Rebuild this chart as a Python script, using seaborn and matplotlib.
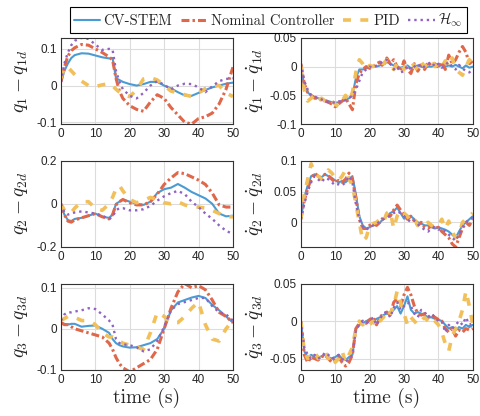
import numpy as np
import pandas as pd
import matplotlib
matplotlib.use("Agg")
import matplotlib.pyplot as plt
from matplotlib.ticker import FuncFormatter
import seaborn as sns

# time grids (s)
t_pos = [0, 1, 2, 3, 4, 6, 8, 10, 12, 14, 15, 16, 17, 18, 20, 22, 24, 26, 28, 30,
         32, 34, 36, 38, 40, 42, 44, 46, 48, 50]
t_vel = list(range(0, 51))

# q1 - q1d
q1_cv = [0.01, 0.04, 0.06, 0.075, 0.083, 0.088, 0.087, 0.082, 0.077, 0.074, 0.075, 0.02, 0.015, 0.01, 0.004,
         0.0, 0.004, 0.01, 0.01, 0.0, -0.008, -0.018, -0.027, -0.028, -0.02, -0.012, -0.005, 0.0, 0.005, 0.008]
q1_nom = [0.01, 0.05, 0.08, 0.095, 0.103, 0.112, 0.11, 0.1, 0.09, 0.078, 0.07, 0.02, -0.015, -0.035, -0.055,
          -0.065, -0.07, -0.045, -0.025, -0.035, -0.06, -0.08, -0.1, -0.105, -0.09, -0.085, -0.075, -0.05, -0.01, 0.05]
q1_pid = [0.02, 0.05, 0.05, 0.04, 0.03, 0.012, 0.0, -0.003, 0.002, 0.005, 0.0, -0.01, -0.018, -0.025, -0.03,
          -0.012, 0.018, 0.022, 0.015, 0.0, -0.015, -0.02, -0.025, -0.03, -0.02, -0.008, 0.0, 0.0, -0.02, -0.03]
q1_hinf = [0.01, 0.06, 0.09, 0.11, 0.122, 0.13, 0.127, 0.112, 0.097, 0.1, 0.098, 0.04, 0.01, -0.01, -0.028,
           -0.035, -0.02, 0.0, 0.012, 0.002, -0.01, 0.0, 0.005, 0.004, -0.005, -0.018, -0.002, 0.012, 0.018, 0.02]

# q2 - q2d
q2_cv = [-0.008, -0.05, -0.075, -0.08, -0.07, -0.065, -0.055, -0.045, -0.06, -0.065, -0.05, 0.0, 0.01, 0.02, 0.01,
         0.0, -0.005, 0.01, 0.05, 0.068, 0.075, 0.092, 0.075, 0.055, 0.04, 0.025, 0.0, -0.045, -0.058, -0.055]
q2_nom = [-0.005, -0.05, -0.08, -0.085, -0.075, -0.065, -0.055, -0.045, -0.06, -0.07, -0.05, -0.005, 0.01, 0.02, 0.005,
          -0.005, -0.005, 0.01, 0.045, 0.09, 0.12, 0.145, 0.14, 0.125, 0.11, 0.09, 0.05, -0.005, -0.015, -0.015]
q2_pid = [0.0, -0.03, -0.045, -0.04, -0.02, 0.01, 0.01, -0.02, -0.03, 0.0, 0.03, 0.07, 0.085, 0.06, 0.02,
          0.005, 0.015, 0.03, 0.02, 0.005, 0.0, 0.01, -0.005, -0.015, -0.015, -0.02, -0.03, -0.045, -0.06, -0.06]
q2_hinf = [0.0, -0.04, -0.05, -0.045, -0.04, -0.035, -0.04, -0.045, -0.055, -0.07, -0.06, -0.03, -0.02, -0.02, -0.03,
           -0.03, -0.025, -0.01, 0.015, 0.035, 0.05, 0.06, 0.045, 0.01, -0.015, -0.045, -0.07, -0.1, -0.125, -0.14]

# q3 - q3d
q3_cv = [0.015, 0.012, 0.01, 0.012, 0.012, 0.005, 0.007, 0.008, 0.0, -0.01, -0.025, -0.035, -0.04, -0.043, -0.046,
         -0.045, -0.04, -0.035, -0.025, 0.0, 0.045, 0.064, 0.07, 0.076, 0.08, 0.075, 0.058, 0.045, 0.03, 0.015]
q3_nom = [0.015, 0.01, 0.01, 0.005, 0.0, -0.005, -0.01, -0.015, -0.02, -0.035, -0.05, -0.07, -0.085, -0.095, -0.105,
          -0.095, -0.085, -0.075, -0.05, 0.0, 0.05, 0.09, 0.11, 0.1, 0.105, 0.095, 0.07, 0.04, 0.03, 0.015]
q3_pid = [0.02, 0.025, 0.03, 0.03, 0.028, 0.02, 0.02, 0.01, -0.01, -0.02, -0.02, -0.025, -0.03, -0.035, -0.04,
          -0.045, -0.05, -0.01, 0.04, 0.03, 0.015, 0.015, 0.03, 0.05, 0.065, 0.01, -0.025, -0.03, 0.0, 0.02]
q3_hinf = [0.02, 0.035, 0.04, 0.04, 0.042, 0.045, 0.05, 0.048, 0.035, 0.02, 0.01, -0.025, -0.035, -0.038, -0.04,
           -0.045, -0.055, -0.05, -0.03, 0.005, 0.045, 0.06, 0.065, 0.07, 0.075, 0.075, 0.055, 0.04, 0.035, 0.02]

# q1dot - q1dot_d
dq1_cv = [0.0, -0.035, -0.045, -0.05, -0.053, -0.055, -0.057, -0.058, -0.06, -0.062, -0.063,
          -0.062, -0.06, -0.058, -0.055, -0.05, -0.02, -0.005, -0.005, -0.003, -0.002,
          0.0, 0.0, 0.002, 0.005, 0.008, 0.005, 0.002, 0.0, -0.002, 0.0,
          0.002, -0.003, 0.0, 0.002, 0.0, -0.002, 0.0, 0.0, 0.002, 0.0,
          0.003, 0.0, 0.002, 0.0, 0.003, 0.0, -0.003, 0.002, -0.002, 0.0]
dq1_nom = [0.005, -0.03, -0.045, -0.05, -0.055, -0.055, -0.058, -0.06, -0.062, -0.065, -0.07,
           -0.065, -0.06, -0.055, -0.065, -0.075, -0.03, -0.012, -0.005, 0.0, -0.003,
           0.0, 0.005, 0.008, 0.0, 0.015, 0.005, 0.012, 0.0, -0.008, 0.01,
           -0.005, -0.012, 0.005, -0.008, 0.003, -0.005, 0.008, 0.0, 0.005, -0.002,
           0.008, -0.005, 0.02, 0.005, 0.012, 0.025, 0.035, 0.025, 0.005, 0.01]
dq1_pid = [0.0, -0.04, -0.06, -0.055, -0.05, -0.06, -0.055, -0.06, -0.065, -0.06, -0.065,
           -0.07, -0.06, -0.05, -0.06, -0.045, -0.01, 0.012, 0.005, -0.005, 0.002,
           0.0, 0.005, 0.01, 0.005, 0.012, 0.005, -0.005, 0.005, 0.008, -0.005,
           0.005, 0.01, 0.0, -0.005, 0.008, 0.0, 0.005, 0.012, 0.0, 0.005,
           0.0, 0.01, 0.0, 0.015, -0.005, -0.01, -0.015, 0.0, 0.012, 0.005]
dq1_hinf = [0.005, -0.025, -0.04, -0.05, -0.052, -0.055, -0.057, -0.06, -0.062, -0.063, -0.062,
            -0.06, -0.062, -0.058, -0.055, -0.05, -0.04, -0.025, -0.01, -0.005, 0.0,
            -0.002, 0.002, 0.005, 0.01, 0.012, 0.005, -0.005, 0.0, -0.01, -0.008,
            0.002, -0.005, 0.0, 0.005, -0.002, 0.0, 0.005, 0.008, 0.0, 0.005,
            -0.002, 0.003, 0.008, 0.0, -0.005, 0.003, -0.003, -0.008, -0.01, -0.005]

# q2dot - q2dot_d
dq2_cv = [0.005, 0.04, 0.06, 0.075, 0.078, 0.075, 0.073, 0.078, 0.075, 0.072, 0.068,
          0.065, 0.067, 0.065, 0.07, 0.075, 0.045, 0.01, -0.005, -0.01, -0.008,
          -0.005, -0.003, 0.0, 0.005, 0.01, 0.015, 0.018, 0.024, 0.015, 0.006,
          0.008, 0.01, 0.005, 0.0, -0.002, -0.005, -0.005, -0.008, -0.01, -0.008,
          -0.01, -0.012, -0.015, -0.02, -0.025, -0.015, -0.005, 0.0, 0.005, 0.01]
dq2_nom = [0.005, 0.035, 0.055, 0.07, 0.08, 0.075, 0.072, 0.078, 0.076, 0.07, 0.065,
           0.068, 0.065, 0.07, 0.08, 0.07, 0.04, 0.005, -0.01, -0.01, -0.005,
           -0.002, -0.005, 0.0, 0.008, 0.012, 0.01, 0.02, 0.028, 0.02, 0.012,
           0.005, 0.01, 0.002, -0.005, 0.0, -0.008, -0.01, -0.005, -0.01, -0.008,
           -0.015, -0.02, -0.025, -0.035, -0.04, -0.025, -0.01, 0.0, -0.005, 0.005]
dq2_pid = [0.005, 0.045, 0.07, 0.095, 0.08, 0.075, 0.07, 0.075, 0.085, 0.08, 0.072,
           0.068, 0.075, 0.085, 0.07, 0.06, 0.03, 0.0, -0.03, -0.025, -0.005,
           -0.002, 0.0, 0.005, 0.0, 0.015, 0.018, -0.01, 0.01, 0.02, 0.015,
           0.01, 0.0, 0.005, -0.005, -0.008, -0.005, 0.0, -0.005, -0.008, -0.005,
           0.005, -0.01, 0.002, -0.015, -0.025, -0.02, 0.0, 0.005, 0.01, 0.015]
dq2_hinf = [0.005, 0.03, 0.05, 0.065, 0.075, 0.07, 0.065, 0.072, 0.07, 0.065, 0.06,
            0.062, 0.06, 0.065, 0.075, 0.065, 0.03, 0.005, -0.008, -0.012, -0.008,
            -0.005, -0.003, 0.002, 0.005, 0.008, 0.01, 0.015, 0.018, 0.015, 0.01,
            0.005, 0.0, 0.003, -0.003, -0.008, -0.012, -0.015, -0.01, -0.008, -0.012,
            -0.01, -0.015, -0.02, -0.025, -0.03, -0.02, -0.008, 0.0, 0.005, 0.008]

# q3dot - q3dot_d
dq3_cv = [0.0, -0.04, -0.05, -0.045, -0.048, -0.05, -0.047, -0.045, -0.048, -0.05, -0.048,
          -0.045, -0.05, -0.052, -0.048, -0.045, -0.01, -0.005, -0.003, 0.0, 0.002,
          0.0, 0.003, 0.005, 0.008, 0.01, 0.01, 0.015, 0.02, 0.01, 0.02,
          0.033, 0.015, 0.01, 0.012, 0.01, 0.008, 0.005, 0.005, 0.003, 0.002,
          0.0, -0.005, -0.01, -0.008, -0.012, -0.008, -0.01, -0.005, -0.008, -0.005]
dq3_nom = [0.0, -0.045, -0.055, -0.048, -0.05, -0.052, -0.048, -0.045, -0.05, -0.055, -0.05,
           -0.048, -0.055, -0.06, -0.055, -0.045, -0.01, -0.003, 0.0, -0.003, 0.002,
           0.005, -0.005, 0.005, 0.01, 0.012, 0.008, 0.025, 0.03, 0.02, 0.035,
           0.045, 0.035, 0.02, 0.01, 0.008, 0.01, 0.005, 0.008, 0.005, 0.002,
           0.0, -0.01, -0.015, -0.01, -0.02, -0.012, -0.015, -0.01, -0.012, -0.01]
dq3_pid = [0.0, -0.04, -0.05, -0.045, -0.04, -0.05, -0.045, -0.04, -0.05, -0.045, -0.055,
           -0.05, -0.04, -0.055, -0.045, -0.035, -0.01, 0.0, -0.005, 0.0, -0.005,
           0.0, -0.008, 0.0, 0.005, 0.015, 0.01, 0.02, 0.04, 0.025, 0.01,
           -0.005, 0.005, 0.0, -0.005, 0.0, 0.005, 0.0, 0.005, 0.0, -0.005,
           -0.015, -0.03, -0.04, -0.02, -0.01, 0.0, 0.015, 0.04, 0.02, -0.005]
dq3_hinf = [0.0, -0.035, -0.045, -0.05, -0.045, -0.05, -0.048, -0.042, -0.045, -0.05, -0.048,
            -0.045, -0.05, -0.055, -0.05, -0.045, -0.012, -0.005, 0.0, -0.003, 0.0,
            0.005, -0.005, 0.003, 0.01, 0.012, 0.005, 0.018, 0.025, 0.015, 0.02,
            0.025, 0.02, 0.01, 0.005, 0.015, 0.012, 0.005, 0.01, 0.005, 0.0,
            0.0, -0.015, -0.005, -0.01, -0.005, 0.0, -0.005, 0.005, -0.005, -0.003]

labels = ["CV-STEM", "Nominal Controller", "PID", r"$\mathcal{H}_\infty$"]
colors = ["#4a9bd4", "#e0674a", "#f2c05a", "#9063c2"]
styles = [dict(linestyle="-", lw=1.5),
          dict(dashes=(2.6, 1.0, 0.8, 1.0), lw=2.2),
          dict(dashes=(2.2, 2.6), lw=2.6),
          dict(linestyle=":", lw=1.7)]

panels = [
    (t_pos, [q1_cv, q1_nom, q1_pid, q1_hinf], r"$q_1-q_{1d}$", (-0.105, 0.13), [-0.1, 0, 0.1]),
    (t_vel, [dq1_cv, dq1_nom, dq1_pid, dq1_hinf], r"$\dot{q}_1-\dot{q}_{1d}$", (-0.1, 0.05), [-0.1, -0.05, 0, 0.05]),
    (t_pos, [q2_cv, q2_nom, q2_pid, q2_hinf], r"$q_2-q_{2d}$", (-0.2, 0.2), [-0.2, 0, 0.2]),
    (t_vel, [dq2_cv, dq2_nom, dq2_pid, dq2_hinf], r"$\dot{q}_2-\dot{q}_{2d}$", (-0.04, 0.1), [0, 0.05, 0.1]),
    (t_pos, [q3_cv, q3_nom, q3_pid, q3_hinf], r"$q_3-q_{3d}$", (-0.1, 0.11), [-0.1, 0, 0.1]),
    (t_vel, [dq3_cv, dq3_nom, dq3_pid, dq3_hinf], r"$\dot{q}_3-\dot{q}_{3d}$", (-0.065, 0.05), [-0.05, 0, 0.05]),
]

sns.set_style("whitegrid", rc={"axes.edgecolor": "0.2", "grid.color": "#dcdcdc",
                               "axes.linewidth": 0.8, "grid.linewidth": 0.6})
plt.rcParams["font.family"] = ["Liberation Sans", "DejaVu Sans"]
plt.rcParams["mathtext.fontset"] = "cm"
plt.rcParams["axes.unicode_minus"] = False

fig, axes = plt.subplots(3, 2, figsize=(4.8, 4.16), dpi=100)
fig.subplots_adjust(left=0.127, right=0.985, bottom=0.111, top=0.909, wspace=0.395, hspace=0.425)

fmt = FuncFormatter(lambda v, p: f"{v:g}")
for i, (tt, series, ylab, ylim, yticks) in enumerate(panels):
    ax = axes[i // 2, i % 2]
    for vals, lab, c, st in zip(series, labels, colors, styles):
        df = pd.DataFrame({"t": tt, "e": vals})
        sns.lineplot(data=df, x="t", y="e", ax=ax, color=c, label=lab, legend=False, **st)
    ax.set_xlim(0, 50)
    ax.set_ylim(*ylim)
    ax.set_xticks([0, 10, 20, 30, 40, 50])
    ax.set_yticks(yticks)
    ax.yaxis.set_major_formatter(fmt)
    ax.tick_params(labelsize=8.5, pad=3, length=0)
    ax.set_ylabel(ylab, fontsize=14)
    ax.yaxis.set_label_coords(-0.18 if i % 2 == 0 else -0.2, 0.5)
    if i >= 4:
        ax.set_xlabel("time (s)", fontsize=14, family="cmr10", labelpad=1)
    else:
        ax.set_xlabel("")

handles = axes[0, 0].get_lines()
leg = fig.legend(handles, labels, loc="upper center", bbox_to_anchor=(0.559, 0.99), ncol=4,
                 frameon=True, fancybox=False, edgecolor="k", framealpha=1,
                 prop={"family": "cmr10", "size": 10.5}, handlelength=1.8,
                 handletextpad=0.25, columnspacing=0.6, borderpad=0.25, borderaxespad=0.2)
leg.get_frame().set_linewidth(0.8)

fig.savefig("out.png", dpi=100)
